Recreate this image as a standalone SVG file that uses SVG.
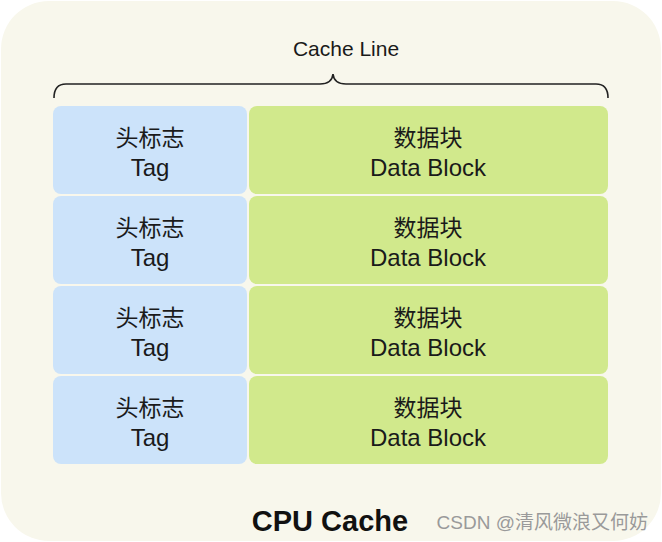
<svg xmlns="http://www.w3.org/2000/svg" width="662" height="542" viewBox="0 0 662 542">
<style>
.tag{fill:#cce3fa}
.data{fill:#d1e98c}
.t{font-family:"Liberation Sans","Noto Sans CJK SC",sans-serif;font-size:24px;fill:#1a1a1a;text-anchor:middle}
.cn{font-family:"Noto Sans CJK SC",sans-serif;font-size:23px;fill:#1a1a1a;text-anchor:middle}
</style>
<rect x="0" y="0" width="662" height="542" fill="#ffffff"/>
<rect x="1" y="1" width="660" height="540" rx="48" fill="#f8f7ec"/>
<text x="346" y="56" class="t" style="font-size:21px">Cache Line</text>
<g id="connectors">
<path d="M54 98 Q54 84 66 84 L320 84 Q332 84 333 74 Q334 84 346 84 L596 84 Q608 84 608 98" fill="none" stroke="#222" stroke-width="1.6"/>
</g>
<g id="tag1"><rect x="53" y="106" width="194" height="88" rx="8" class="tag"/><text x="150" y="146" class="cn">头标志</text><text x="150" y="176" class="t">Tag</text></g>
<g id="data1"><rect x="249" y="106" width="359" height="88" rx="8" class="data"/><text x="428" y="146" class="cn">数据块</text><text x="428" y="176" class="t">Data Block</text></g>
<g id="tag2"><rect x="53" y="196" width="194" height="88" rx="8" class="tag"/><text x="150" y="236" class="cn">头标志</text><text x="150" y="266" class="t">Tag</text></g>
<g id="data2"><rect x="249" y="196" width="359" height="88" rx="8" class="data"/><text x="428" y="236" class="cn">数据块</text><text x="428" y="266" class="t">Data Block</text></g>
<g id="tag3"><rect x="53" y="286" width="194" height="88" rx="8" class="tag"/><text x="150" y="326" class="cn">头标志</text><text x="150" y="356" class="t">Tag</text></g>
<g id="data3"><rect x="249" y="286" width="359" height="88" rx="8" class="data"/><text x="428" y="326" class="cn">数据块</text><text x="428" y="356" class="t">Data Block</text></g>
<g id="tag4"><rect x="53" y="376" width="194" height="88" rx="8" class="tag"/><text x="150" y="416" class="cn">头标志</text><text x="150" y="446" class="t">Tag</text></g>
<g id="data4"><rect x="249" y="376" width="359" height="88" rx="8" class="data"/><text x="428" y="416" class="cn">数据块</text><text x="428" y="446" class="t">Data Block</text></g>
<text x="330" y="531" font-family="Liberation Sans,sans-serif" font-weight="bold" font-size="29" fill="#111" text-anchor="middle">CPU Cache</text>
<text x="648" y="529" font-family="Liberation Sans,'Noto Sans CJK SC',sans-serif" font-size="19" fill="#9a9a9a" text-anchor="end">CSDN @清风微浪又何妨</text>
</svg>
